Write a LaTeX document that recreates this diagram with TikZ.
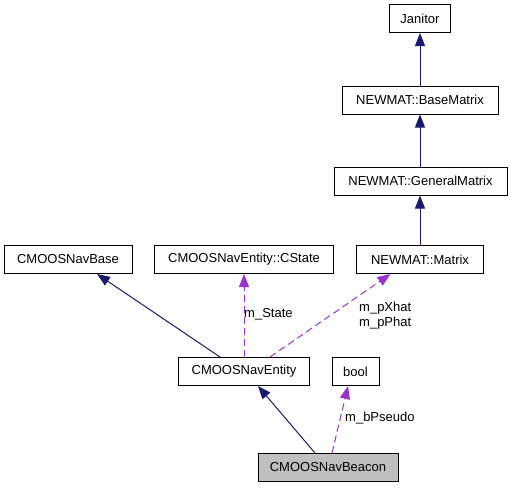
\documentclass[tikz,border=0pt]{standalone}
\usepackage{fontspec}
\setmainfont{Liberation Sans}
\usetikzlibrary{arrows.meta}
\definecolor{inhcol}{HTML}{191970}
\definecolor{usecol}{HTML}{9A32CD}
\definecolor{curfill}{HTML}{BFBFBF}
\tikzset{
  box/.style={draw=black, line width=1pt, inner sep=0pt, minimum height=28pt, font=\fontsize{13}{15}\selectfont},
  inh/.style={draw=inhcol, line width=1pt, -{Triangle[length=13pt,width=10pt,fill=inhcol]}},
  use/.style={draw=usecol, line width=1pt, dash pattern=on 7pt off 4pt, -{Triangle[length=13pt,width=10pt,fill=usecol]}},
  lbl/.style={font=\fontsize{13}{15}\selectfont, inner sep=0pt, anchor=west, align=left}
}
\begin{document}
\begin{tikzpicture}[x=1pt,y=-1pt]
\useasboundingbox (0,0) rectangle (511,488);
\node[box, minimum width=61pt] (jan) at (420,18.5) {Janitor};
\node[box, minimum width=156pt] (bm) at (420,100) {NEWMAT::BaseMatrix};
\node[box, minimum width=173pt] (gm) at (420.5,181) {NEWMAT::GeneralMatrix};
\node[box, minimum width=128pt] (base) at (68,259.5) {CMOOSNavBase};
\node[box, minimum width=179pt] (cst) at (244,259.5) {CMOOSNavEntity::CState};
\node[box, minimum width=127pt] (mat) at (420,259.5) {NEWMAT::Matrix};
\node[box, minimum width=131pt] (ent) at (244,371.5) {CMOOSNavEntity};
\node[box, minimum width=47pt] (bool) at (355.5,371.5) {bool};
\node[box, minimum width=140pt, fill=curfill] (bea) at (328,467.5) {CMOOSNavBeacon};

\draw[inh] (bm.north) -- (jan.south);
\draw[inh] (gm.north -| bm.south) -- (bm.south);
\draw[inh] (mat.north) -- (mat.north |- gm.south);
\draw[inh] ([xshift=-24pt]ent.north) -- ([xshift=29pt]base.south);
\draw[use] (ent.north) -- (cst.south);
\draw[use] ([xshift=26pt]ent.north) -- ([xshift=-29.5pt]mat.south);
\draw[inh] ([xshift=-13pt]bea.north) -- ([xshift=14pt]ent.south);
\draw[use] ([xshift=4pt]bea.north) -- ([xshift=-7.5pt]bool.south);

\node[lbl] (l1) at (244,314) {m\_State};
\node[lbl] (l2) at (359,316) {m\_pXhat\\m\_pPhat};
\node[lbl] (l3) at (345,418) {m\_bPseudo};
\end{tikzpicture}
\end{document}
